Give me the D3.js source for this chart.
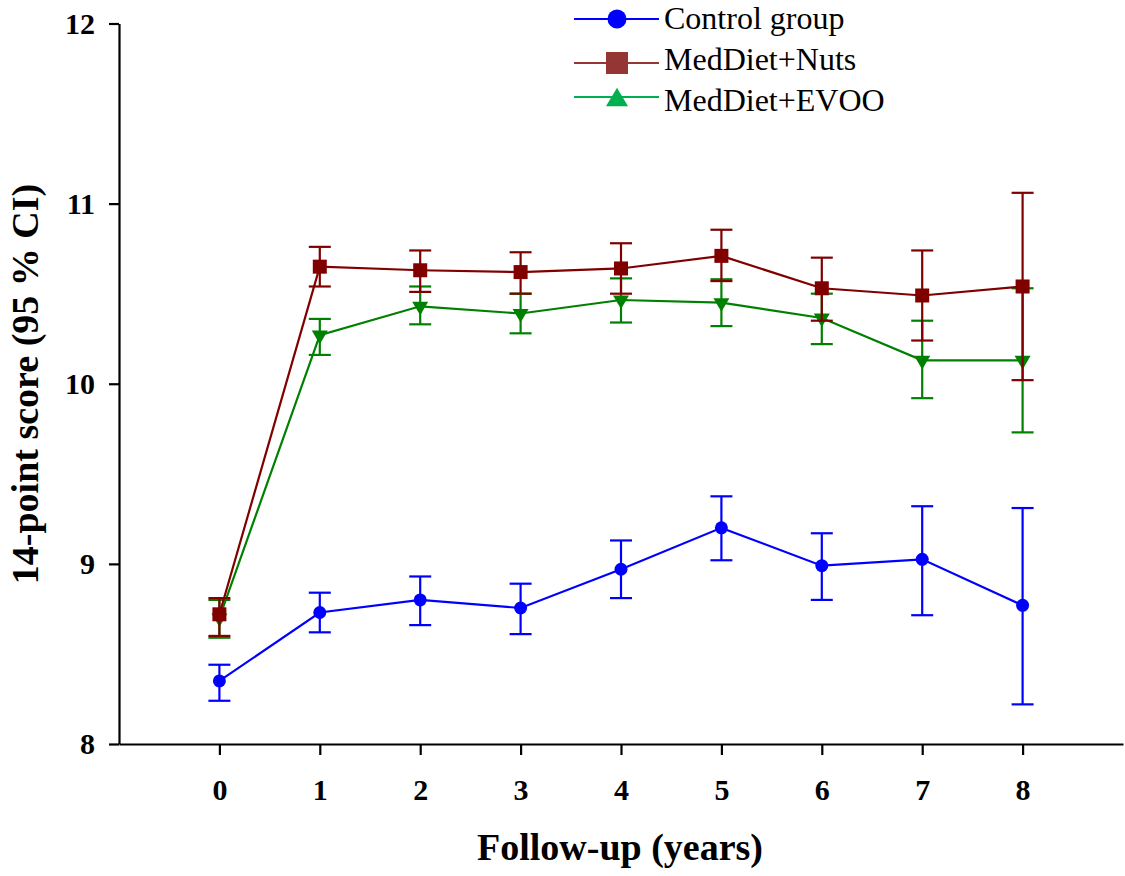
<!DOCTYPE html>
<html>
<head>
<meta charset="utf-8">
<script src="https://cdn.jsdelivr.net/npm/d3@7"></script>
<style>
  body { margin: 0; background: #fff; }
  svg { display: block; font-family: "Liberation Serif", "Times New Roman", serif; }
</style>
</head>
<body>
<div id="chart"></div>
<script>
// Follow-up years
const years = [0, 1, 2, 3, 4, 5, 6, 7, 8];

// Control group: mean, lower and upper 95% CI
const controlMean = [8.35, 8.73, 8.80, 8.755, 8.97, 9.20, 8.99, 9.025, 8.77];
const controlLow  = [8.24, 8.62, 8.66, 8.61, 8.81, 9.02, 8.80, 8.715, 8.22];
const controlHigh = [8.44, 8.84, 8.93, 8.89, 9.13, 9.375, 9.17, 9.32, 9.31];

// MedDiet+Nuts
const nutsMean = [8.72, 10.65, 10.63, 10.62, 10.64, 10.71, 10.53, 10.49, 10.54];
const nutsLow  = [8.60, 10.54, 10.51, 10.50, 10.50, 10.57, 10.35, 10.24, 10.02];
const nutsHigh = [8.81, 10.76, 10.74, 10.73, 10.78, 10.855, 10.70, 10.74, 11.06];

// MedDiet+EVOO
const evooMean = [8.70, 10.27, 10.43, 10.39, 10.465, 10.45, 10.365, 10.13, 10.13];
const evooLow  = [8.59, 10.16, 10.33, 10.28, 10.34, 10.32, 10.22, 9.92, 9.73];
const evooHigh = [8.80, 10.36, 10.54, 10.50, 10.585, 10.58, 10.50, 10.35, 10.53];

const yTicks = [8, 9, 10, 11, 12];

const width = 1125, height = 876;

const svg = d3.select("#chart")
  .append("svg")
  .attr("width", width)
  .attr("height", height);

const x = d3.scaleLinear().domain([-1, 9]).range([119, 1123]);
const y = d3.scaleLinear().domain([8, 12]).range([744, 23.5]);

// Axes
const yAxis = svg.append("g")
  .attr("transform", "translate(119,0)")
  .call(d3.axisLeft(y).tickValues(yTicks).tickSize(10).tickSizeOuter(0).tickPadding(14).tickFormat(d3.format("d")));

const xAxis = svg.append("g")
  .attr("transform", "translate(0,744)")
  .call(d3.axisBottom(x).tickValues(years).tickSize(11).tickSizeOuter(0).tickPadding(24).tickFormat(d3.format("d")));

[yAxis, xAxis].forEach(g => {
  g.selectAll("path, line").attr("stroke", "#000").attr("stroke-width", 2.2);
  g.selectAll("text")
    .attr("fill", "#000")
    .attr("font-family", "Liberation Serif, serif")
    .attr("font-weight", "bold")
    .attr("font-size", 30);
});

// Axis titles
svg.append("text")
  .attr("transform", "rotate(-90)")
  .attr("x", -384)
  .attr("y", 38)
  .attr("text-anchor", "middle")
  .attr("font-weight", "bold")
  .attr("font-size", 38)
  .text("14-point score (95 % CI)");

svg.append("text")
  .attr("x", 620)
  .attr("y", 860)
  .attr("text-anchor", "middle")
  .attr("font-weight", "bold")
  .attr("font-size", 38)
  .text("Follow-up (years)");

// Series
const series = [
  { name: "Control group", mean: controlMean, low: controlLow, high: controlHigh,
    color: "#0000ff", legendColor: "#0000ff", legendLine: "#0000ff", shape: "circle" },
  { name: "MedDiet+EVOO", mean: evooMean, low: evooLow, high: evooHigh,
    color: "#008000", legendColor: "#00b050", legendLine: "#00b050", shape: "triDown" },
  { name: "MedDiet+Nuts", mean: nutsMean, low: nutsLow, high: nutsHigh,
    color: "#800000", legendColor: "#943634", legendLine: "#943634", shape: "square" }
];

function drawMarker(g, shape, cx, cy, color, size) {
  if (shape === "circle") {
    g.append("circle").attr("cx", cx).attr("cy", cy).attr("r", size / 2).attr("fill", color);
  } else if (shape === "square") {
    g.append("rect").attr("x", cx - size / 2).attr("y", cy - size / 2)
      .attr("width", size).attr("height", size).attr("fill", color);
  } else {
    const h = size * 0.85, w = size;
    const pts = shape === "triDown"
      ? [[cx - w / 2, cy - h / 3], [cx + w / 2, cy - h / 3], [cx, cy + 2 * h / 3]]
      : [[cx - w / 2, cy + h / 2], [cx + w / 2, cy + h / 2], [cx, cy - h / 2]];
    g.append("polygon").attr("points", pts.map(p => p.join(",")).join(" ")).attr("fill", color);
  }
}

const line = d3.line().x(d => x(d[0])).y(d => y(d[1]));

series.forEach(s => {
  const g = svg.append("g");
  const pts = years.map((yr, i) => [yr, s.mean[i]]);

  g.append("path")
    .attr("d", line(pts))
    .attr("fill", "none")
    .attr("stroke", s.color)
    .attr("stroke-width", 2.2);

  // error bars
  years.forEach((yr, i) => {
    const cx = x(yr);
    g.append("line")
      .attr("x1", cx).attr("x2", cx)
      .attr("y1", y(s.low[i])).attr("y2", y(s.high[i]))
      .attr("stroke", s.color).attr("stroke-width", 2.2);
    [s.low[i], s.high[i]].forEach(v => {
      g.append("line")
        .attr("x1", cx - 11).attr("x2", cx + 11)
        .attr("y1", y(v)).attr("y2", y(v))
        .attr("stroke", s.color).attr("stroke-width", 2.2);
    });
  });

  pts.forEach(p => drawMarker(g, s.shape, x(p[0]), y(p[1]), s.color,
    s.shape === "circle" ? 13 : s.shape === "square" ? 14 : 16));
});

// Legend
const legendRows = [
  { s: series[0], ly: 19, ty: 29, shape: "circle", size: 19 },
  { s: series[2], ly: 63, ty: 70, shape: "square", size: 22 },
  { s: series[1], ly: 97, ty: 111, shape: "triUp", size: 22 }
];

const legend = svg.append("g");
legendRows.forEach(r => {
  legend.append("line")
    .attr("x1", 574).attr("x2", 659)
    .attr("y1", r.ly).attr("y2", r.ly)
    .attr("stroke", r.s.legendLine).attr("stroke-width", 2.2);
  drawMarker(legend, r.shape, 617, r.ly, r.s.legendColor, r.size);
  legend.append("text")
    .attr("x", 664)
    .attr("y", r.ty)
    .attr("font-size", 32)
    .attr("fill", "#000")
    .text(r.s.name);
});
</script>
</body>
</html>
